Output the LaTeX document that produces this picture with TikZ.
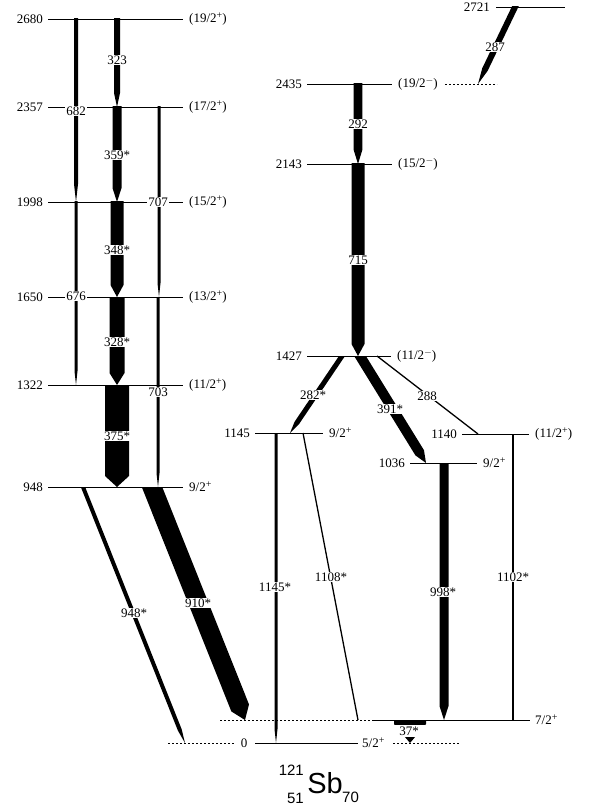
\documentclass[tikz,border=0pt]{standalone}
\usepackage{fontspec}
\setmainfont{Liberation Serif}
\newfontfamily\nucfont{Liberation Sans}
\usetikzlibrary{calc}
% parity superscript
\newcommand\pw[1]{\raisebox{0.6ex}{\fontsize{10}{10}\selectfont #1}}
% gamma transition: from, to, half width, head length (top cut along the level)
\newcommand\gam[4]{%
  \begin{scope}
  \clip ($(#1)+(-300,0)$) rectangle ($(#1)+(300,900)$);
  \coordinate (gs) at ($(#1)!-20pt!(#2)$);
  \coordinate (gp) at ($(#2)!#4!(#1)$);
  \fill ($(gs)!#3!90:(#2)$) -- ($(gp)!#3!90:(#2)$) -- (#2) -- ($(gp)!#3!-90:(#2)$) -- ($(gs)!#3!-90:(#2)$) -- cycle;
  \end{scope}}
% level: y, x1, x2, energy, spin, name
\newcommand\lvl[6]{%
  \draw[lev] (#2,#1) -- (#3,#1);
  \node[el] (e#6) at ([xshift=-5pt]#2,#1) {#4};
  \node[sl] (s#6) at ([xshift=6pt]#3,#1) {#5};}
\begin{document}
\begin{tikzpicture}[x=1pt,y=-1pt,
  txt/.style={font=\fontsize{13}{13}\selectfont},
  lev/.style={line width=0.8pt},
  dots/.style={line width=0.8pt, dash pattern=on 2pt off 2pt},
  el/.style={txt, anchor=east, inner sep=0pt},
  sl/.style={txt, anchor=west, inner sep=0pt},
  tl/.style={txt, fill=white, inner sep=1pt},
  gline/.style={line width=1.3pt}]
\useasboundingbox (0,0) rectangle (590,810);

% ---- levels, left band
\lvl{19}{48}{183}{2680}{(19/2\pw{+})}{2680}
\lvl{107}{48}{183}{2357}{(17/2\pw{+})}{2357}
\lvl{202}{48}{183}{1998}{(15/2\pw{+})}{1998}
\lvl{297}{48}{183}{1650}{(13/2\pw{+})}{1650}
\lvl{385}{48}{183}{1322}{(11/2\pw{+})}{1322}
\lvl{487}{48}{183}{948}{9/2\pw{+}}{948}
% ---- levels, right band
\draw[lev] (496,7) -- (565,7);
\node[el] (e2721) at (490,7) {2721};
\lvl{84}{307}{392}{2435}{(19/2\pw{$-$})}{2435}
\draw[dots] (445,84) -- (497,84);
\lvl{164}{307}{392}{2143}{(15/2\pw{$-$})}{2143}
\lvl{356}{307}{391}{1427}{(11/2\pw{$-$})}{1427}
\lvl{433}{255}{323}{1145}{9/2\pw{+}}{1145}
\lvl{434}{462}{529}{1140}{(11/2\pw{+})}{1140}
\lvl{463}{410}{477}{1036}{9/2\pw{+}}{1036}
% 37 keV level
\draw[dots] (220,720) -- (373,720);
\draw[lev] (373,720) -- (530,720);
\node[sl] (s37) at (535,720) {7/2\pw{+}};
% ground state
\draw[dots] (168,743) -- (235,743);
\node[txt, inner sep=0pt] (e0) at (244,743) {0};
\draw[lev] (255,743) -- (358,743);
\node[sl] (s0) at (362,743) {5/2\pw{+}};
\draw[dots] (393,743) -- (460,743);

% ---- transition end points
\coordinate (a323) at (117,19);  \coordinate (b323) at (117,107);
\coordinate (a682) at (76,19);   \coordinate (b682) at (76,202);
\coordinate (a359) at (117,107); \coordinate (b359) at (117,202);
\coordinate (a707) at (159,107); \coordinate (b707) at (159,297);
\coordinate (a348) at (117,202); \coordinate (b348) at (117,297);
\coordinate (a676) at (76,202);  \coordinate (b676) at (76,385);
\coordinate (a328) at (117,297); \coordinate (b328) at (117,385);
\coordinate (a703) at (158,297); \coordinate (b703) at (158,487);
\coordinate (a375) at (117,385); \coordinate (b375) at (117,487);
\coordinate (a948) at (83,487);  \coordinate (b948) at (185,743);
\coordinate (a910) at (152,487); \coordinate (b910) at (245,720);
\coordinate (a292) at (358,84);  \coordinate (b292) at (358,164);
\coordinate (a715) at (358,164); \coordinate (b715) at (358,356);
\coordinate (a287) at (515,7);   \coordinate (b287) at (478,84);
\coordinate (a282) at (342,356); \coordinate (b282) at (290,433);
\coordinate (a391) at (360,356); \coordinate (b391) at (426,463);
\coordinate (a288) at (377,356); \coordinate (b288) at (478,434);
\coordinate (a1108) at (303,433); \coordinate (b1108) at (358,720);
\coordinate (a1102) at (513,434); \coordinate (b1102) at (513,720);
\coordinate (a998) at (444,463); \coordinate (b998) at (444,720);
\coordinate (a1145) at (276,433); \coordinate (b1145) at (276,743);
\coordinate (a37) at (410,720);  \coordinate (b37) at (410,743);

% ---- transitions
\gam{a323}{b323}{3pt}{14pt}
\gam{a682}{b682}{2pt}{18pt}
\gam{a359}{b359}{4.5pt}{14pt}
\gam{a707}{b707}{1.5pt}{14pt}
\gam{a348}{b348}{6.5pt}{12pt}
\gam{a676}{b676}{1.5pt}{14pt}
\gam{a328}{b328}{7.5pt}{12pt}
\gam{a703}{b703}{1.5pt}{14pt}
\gam{a375}{b375}{12pt}{11pt}
\gam{a948}{b948}{2pt}{14pt}
\gam{a910}{b910}{9.5pt}{13pt}
\gam{a292}{b292}{4.3pt}{14pt}
\gam{a715}{b715}{6.5pt}{12pt}
\gam{a287}{b287}{3pt}{16pt}
\gam{a282}{b282}{2.5pt}{12pt}
\gam{a391}{b391}{5pt}{12pt}
\gam{a998}{b998}{4.5pt}{14pt}
\gam{a1145}{b1145}{1.5pt}{14pt}
\gam{a37}{b37}{16pt}{19pt}
\draw[gline] (a288) -- (b288);
\draw[gline] (a1108) -- (b1108);
\draw[gline] (a1102) -- (b1102);

% ---- transition labels
\node[tl] (l323) at (117,60) {323};
\node[tl] (l682) at (76,111) {682};
\node[tl] (l359) at (117,155) {359*};
\node[tl] (l707) at (158,202) {707};
\node[tl] (l348) at (117,250) {348*};
\node[tl] (l676) at (76,296) {676};
\node[tl] (l328) at (117,342) {328*};
\node[tl] (l703) at (158,392) {703};
\node[tl] (l375) at (117,436) {375*};
\node[tl] (l948) at (134,613) {948*};
\node[tl] (l910) at (198,603) {910*};
\node[tl] (l1145) at (275,587) {1145*};
\node[tl] (l1108) at (331,577) {1108*};
\node[tl] (l998) at (443,592) {998*};
\node[tl] (l1102) at (513,577) {1102*};
\node[tl, inner xsep=6pt, inner ysep=1.5pt] (l37) at (409,731) {37*};
\node[tl] (l282) at (313,395) {282*};
\node[tl] (l391) at (390,409) {391*};
\node[tl] (l288) at (427,396) {288};
\node[tl] (l715) at (358,260) {715};
\node[tl] (l292) at (358,124) {292};
\node[tl] (l287) at (495,47) {287};

% ---- nuclide
\node[font=\nucfont\fontsize{29}{29}\selectfont, inner sep=0pt] (sb) at (325,783) {Sb};
\node[font=\nucfont\fontsize{15}{15}\selectfont, inner sep=0pt, anchor=east] (mass) at (304,770) {121};
\node[font=\nucfont\fontsize{15}{15}\selectfont, inner sep=0pt, anchor=east] (zz) at (304,798) {51};
\node[font=\nucfont\fontsize{15}{15}\selectfont, inner sep=0pt, anchor=west] (nn) at (342,797) {70};
\end{tikzpicture}
\end{document}
